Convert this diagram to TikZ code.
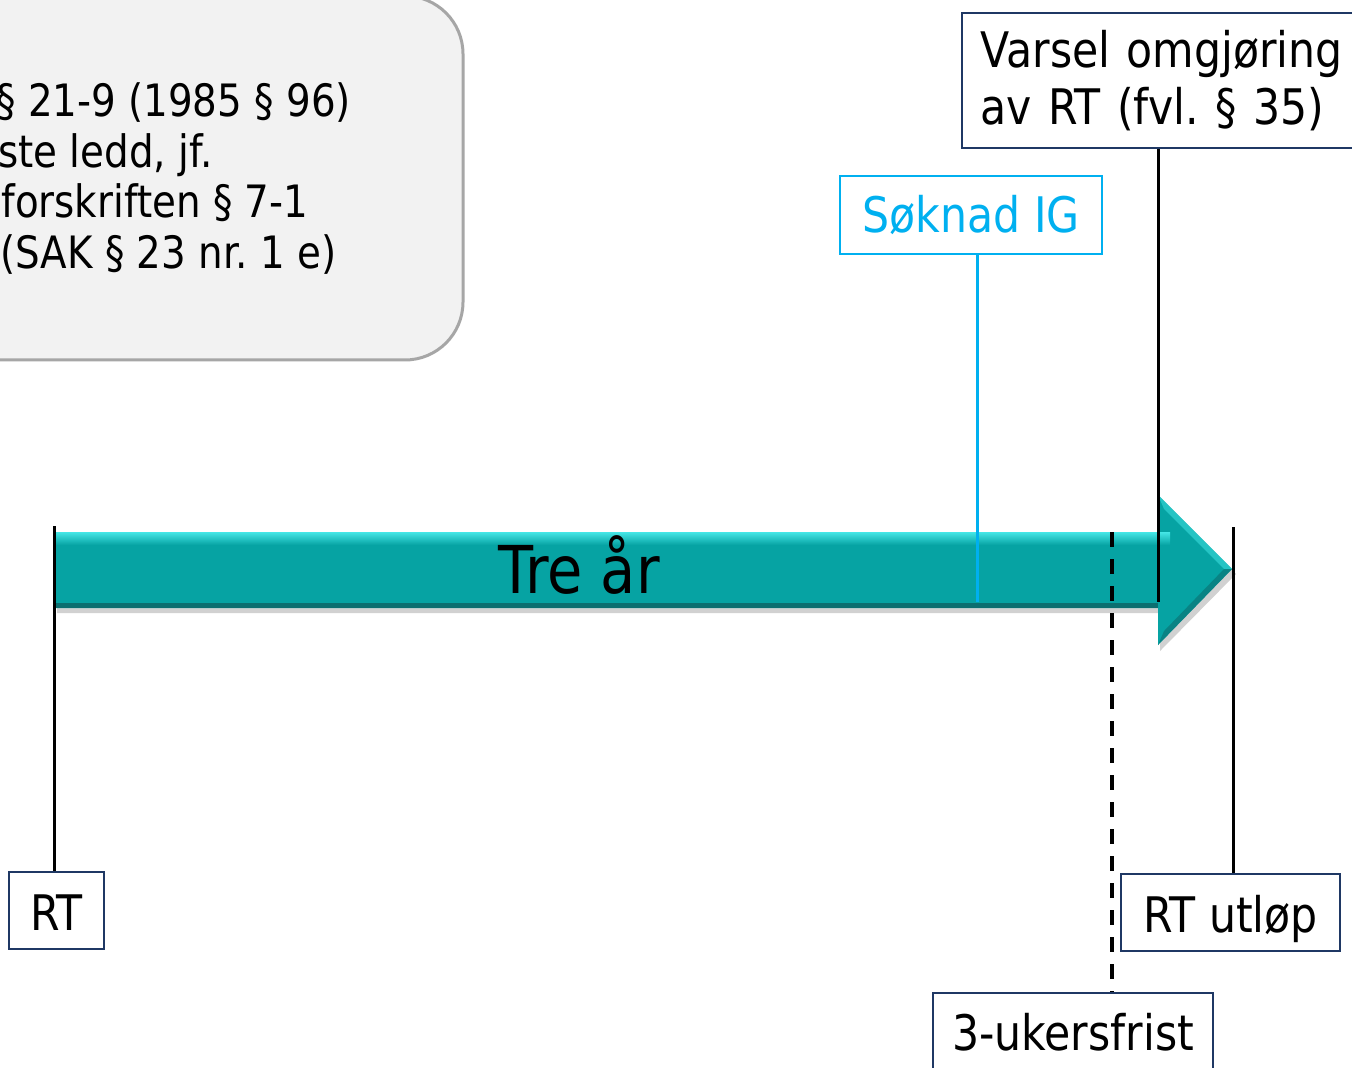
\documentclass[tikz,border=0pt]{standalone}
\usepackage{fontspec}
\setmainfont{DejaVu Sans}[FakeStretch=0.87]
\frenchspacing
\usetikzlibrary{calc}
\definecolor{navy}{HTML}{1F3864}
\definecolor{cyanb}{HTML}{00B0F0}
\definecolor{teal1}{HTML}{06A3A3}
\definecolor{teal2}{HTML}{45E6E6}
\definecolor{teal3}{HTML}{0B6F70}
\definecolor{boxgray}{HTML}{F2F2F2}
\definecolor{edgegray}{HTML}{A6A6A6}
\tikzset{
  lbl/.style={draw=navy, line width=1pt, fill=white, inner sep=0pt, text height=19.5pt, text depth=0pt, font=\fontsize{24.5}{28.5}\selectfont},
  tick/.style={line width=1.5pt, black},
  note/.style={anchor=base west, inner sep=0pt, font=\fontsize{22.3}{25}\selectfont}
}
\begin{document}
\begin{tikzpicture}[x=0.5pt,y=-0.5pt]
\clip (0,0) rectangle (1352,1068);
\fill[white] (0,0) rectangle (1352,1068);
% gray note box
\draw[fill=boxgray, draw=edgegray, line width=1.5pt, rounded corners=29pt] (-200,-4) rectangle (463,360);
\node[note] (n1) at (-4,117) {§ 21-9 (1985 § 96)};
\node[note] (n2) at (-2,168) {ste ledd, jf.};
\node[note] (n3) at (1,218) {forskriften § 7-1};
\node[note] (n4) at (0,269) {(SAK § 23 nr. 1 e)};
% arrow shadow
\fill[black, opacity=0.18] (57,537) -- (1160,537) -- (1160,500) -- (1236,574) -- (1160,651) -- (1160,613) -- (57,613) -- cycle;
% arrow
\fill[teal1] (55,532) -- (1158,532) -- (1158,495) -- (1232,569) -- (1158,645) -- (1158,608) -- (55,608) -- cycle;
\shade[top color=teal2, bottom color=teal1] (55,532) rectangle (1170,545);
\fill[teal3] (55,603) rectangle (1158,608);
\fill[teal2, opacity=0.5] (1158,495) -- (1232,569) -- (1224,569) -- (1164,509) -- cycle;
\fill[teal3, opacity=0.6] (1158,645) -- (1232,569) -- (1224,569) -- (1164,631) -- cycle;
\node[inner sep=0pt, anchor=base, font=\fontsize{33}{36}\selectfont] (tre) at (579,593) {Tre år};
% labels
\node[lbl, minimum width=95*0.5pt, minimum height=77*0.5pt] (rt) at (56.5,910.5) {RT};
\node[lbl, minimum width=219*0.5pt, minimum height=77*0.5pt] (utlop) at (1230.5,912.5) {RT utløp};
\node[lbl, minimum width=280*0.5pt, minimum height=90*0.5pt, text height=12pt] (uker) at (1073,1038) {3-ukersfrist};
\node[lbl, draw=cyanb, text=cyanb, minimum width=262*0.5pt, minimum height=78*0.5pt, text height=18pt] (sok) at (971,215) {Søknad IG};
\node[lbl, align=left, text width=380*0.5pt, inner xsep=19*0.5pt, minimum height=135*0.5pt, text height=, text depth=] (varsel) at (1170.5,80.5) {Varsel omgjøring\\av RT (fvl. § 35)};
% connector ends
\coordinate (rtTop) at (54,526);
\coordinate (utTop) at (1233,527);
\coordinate (ukTop) at (1112,532);
\coordinate (sokEnd) at (977,602);
\coordinate (varEnd) at (1158,602);
\draw[tick] (rtTop) -- (rtTop |- rt.north);
\draw[tick] (utTop) -- (utTop |- utlop.north);
\draw[tick, line width=1.8pt, dash pattern=on 7.5pt off 6pt] (ukTop) -- (ukTop |- uker.north);
\draw[line width=1.5pt, cyanb] (sokEnd |- sok.south) -- (sokEnd);
\draw[tick] (varEnd |- varsel.south) -- (varEnd);
\end{tikzpicture}
\end{document}
